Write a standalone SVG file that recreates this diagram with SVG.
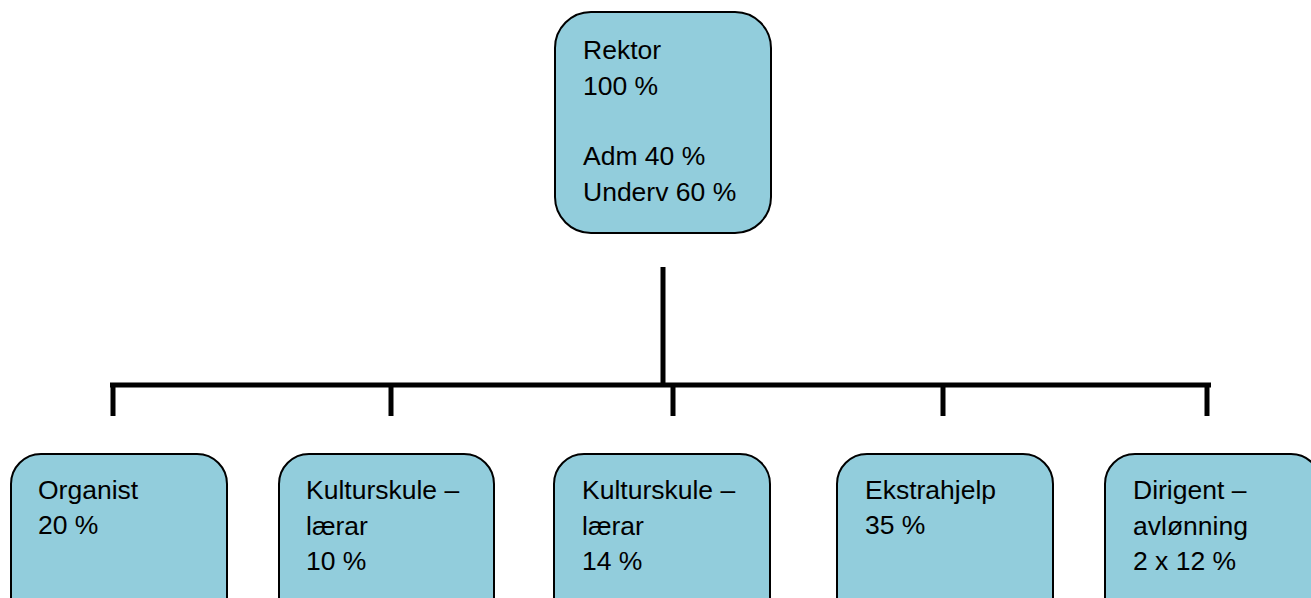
<svg xmlns="http://www.w3.org/2000/svg" width="1311" height="598" viewBox="0 0 1311 598">
<style>
.box{fill:#92CDDC;stroke:#000;stroke-width:2}
.t{font-family:"Liberation Sans",Arial,sans-serif;font-size:26.5px;fill:#000}
.c{stroke:#000;stroke-width:5;fill:none;stroke-linecap:butt}
</style>
<rect width="1311" height="598" fill="#fff"/>
<g id="connectors">
<line class="c" x1="663" y1="267" x2="663" y2="387"/>
<line class="c" x1="110" y1="385" x2="1211" y2="385"/>
<line class="c" x1="113" y1="383" x2="113" y2="416"/>
<line class="c" x1="391" y1="383" x2="391" y2="416"/>
<line class="c" x1="673" y1="383" x2="673" y2="416"/>
<line class="c" x1="943" y1="383" x2="943" y2="416"/>
<line class="c" x1="1207" y1="383" x2="1207" y2="416"/>
</g>
<g id="rektor">
<rect class="box" x="555" y="12" width="216" height="221" rx="36" ry="36"/>
<text class="t" x="583" y="59">Rektor</text>
<text class="t" x="583" y="95">100 %</text>
<text class="t" x="583" y="165">Adm 40 %</text>
<text class="t" x="583" y="201">Underv 60 %</text>
</g>
<g id="organist">
<rect class="box" x="11" y="454" width="216" height="180" rx="30" ry="30"/>
<text class="t" x="38" y="499">Organist</text>
<text class="t" x="38" y="534">20 %</text>
</g>
<g id="kulturskule1">
<rect class="box" x="279" y="454" width="215" height="180" rx="30" ry="30"/>
<text class="t" x="306" y="499">Kulturskule –</text>
<text class="t" x="306" y="535">lærar</text>
<text class="t" x="306" y="570">10 %</text>
</g>
<g id="kulturskule2">
<rect class="box" x="554" y="454" width="216" height="180" rx="30" ry="30"/>
<text class="t" x="582" y="499">Kulturskule –</text>
<text class="t" x="582" y="535">lærar</text>
<text class="t" x="582" y="570">14 %</text>
</g>
<g id="ekstrahjelp">
<rect class="box" x="837" y="454" width="216" height="180" rx="30" ry="30"/>
<text class="t" x="865" y="499">Ekstrahjelp</text>
<text class="t" x="865" y="534">35 %</text>
</g>
<g id="dirigent">
<rect class="box" x="1105" y="454" width="216" height="180" rx="30" ry="30"/>
<text class="t" x="1133" y="499">Dirigent –</text>
<text class="t" x="1133" y="535">avlønning</text>
<text class="t" x="1133" y="570">2 x 12 %</text>
</g>
</svg>
